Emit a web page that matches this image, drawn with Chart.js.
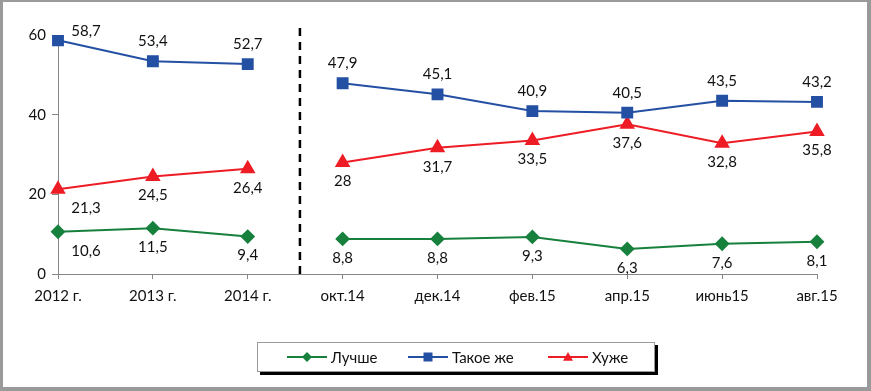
<!DOCTYPE html>
<html lang="ru">
  <head>
    <meta charset="UTF-8" />
    <title>Лучше / Такое же / Хуже</title>
    <script src="https://cdn.jsdelivr.net/npm/chart.js"></script>
    <style>
      html, body { margin: 0; padding: 0; background: #fff; }
      .chart-box { width: 871px; height: 391px; position: relative; }
    </style>
  </head>
  <body>
    <div class="chart-box"><canvas id="chart"></canvas></div>

    <script>
      // Data
      const labels = ["2012 г.", "2013 г.", "2014 г.", "окт.14", "дек.14", "фев.15", "апр.15", "июнь15", "авг.15"];
      const better = [10.6, 11.5, 9.4, 8.8, 8.8, 9.3, 6.3, 7.6, 8.1];
      const same = [58.7, 53.4, 52.7, 47.9, 45.1, 40.9, 40.5, 43.5, 43.2];
      const worse = [21.3, 24.5, 26.4, 28, 31.7, 33.5, 37.6, 32.8, 35.8];
      const yTicks = [0, 20, 40, 60];

      const FONT = "Lato, 'Open Sans', sans-serif";
      const FONT_SIZE = 15;
      const TEXT = "#111";
      const GREEN = "#17803d";
      const BLUE = "#2450a4";
      const RED = "#ee1c25";
      const AXIS = "#868686";

      // last yearly point; the line is broken after it
      const lastYearly = 2;
      // where the dashed divider sits, in category index units
      const dividerAt = 2.55;

      function fmt(v) {
        return String(v).replace(".", ",");
      }

      // value labels: blue above, others below; first point pushed right off the axis
      const valueLabels = {
        id: "valueLabels",
        afterDatasetsDraw(chart) {
          const ctx = chart.ctx;
          ctx.save();
          ctx.font = FONT_SIZE + "px " + FONT;
          ctx.fillStyle = TEXT;
          ctx.textAlign = "center";
          ctx.textBaseline = "middle";
          chart.data.datasets.forEach((ds, di) => {
            const meta = chart.getDatasetMeta(di);
            meta.data.forEach((pt, i) => {
              let x = pt.x;
              let y = ds.labelPos === "above" ? pt.y - 20 : pt.y + 19;
              if (i === 0) {
                x += 28;
                if (ds.labelPos === "above") y = pt.y - 9;
              }
              ctx.fillText(fmt(ds.data[i]), x, y);
            });
          });
          ctx.restore();
        },
      };

      // dashed divider between yearly and monthly points
      const divider = {
        id: "divider",
        beforeDatasetsDraw(chart) {
          const ctx = chart.ctx;
          const x = chart.scales.x.getPixelForValue(dividerAt);
          ctx.save();
          ctx.strokeStyle = "#000";
          ctx.lineWidth = 2.5;
          ctx.setLineDash([8, 6]);
          ctx.beginPath();
          ctx.moveTo(x, 28);
          ctx.lineTo(x, chart.chartArea.bottom);
          ctx.stroke();
          ctx.restore();
        },
      };

      function marker(ctx, style, x, y, r, color) {
        ctx.fillStyle = color;
        ctx.beginPath();
        if (style === "rect") {
          ctx.rect(x - r, y - r, 2 * r, 2 * r);
        } else if (style === "rectRot") {
          ctx.moveTo(x, y - r);
          ctx.lineTo(x + r, y);
          ctx.lineTo(x, y + r);
          ctx.lineTo(x - r, y);
        } else {
          ctx.moveTo(x, y - r);
          ctx.lineTo(x + r, y + r * 0.75);
          ctx.lineTo(x - r, y + r * 0.75);
        }
        ctx.closePath();
        ctx.fill();
      }

      // boxed legend with shadow + outer frame
      const legendBox = {
        id: "legendBox",
        afterDraw(chart) {
          const ctx = chart.ctx;
          ctx.save();
          // frame
          ctx.fillStyle = "#9a9a9a";
          ctx.fillRect(0, 0, 871, 2);
          ctx.fillRect(0, 0, 3, 391);
          ctx.fillRect(867, 0, 4, 391);
          ctx.fillRect(0, 387, 871, 4);

          const bx = 257, by = 342, bw = 398, bh = 30;
          ctx.fillStyle = "#000";
          ctx.fillRect(bx + 3, by + 3, bw, bh);
          ctx.fillStyle = "#fff";
          ctx.fillRect(bx, by, bw, bh);
          ctx.strokeStyle = "#9a9a9a";
          ctx.lineWidth = 1;
          ctx.strokeRect(bx + 0.5, by + 0.5, bw - 1, bh - 1);

          const items = [
            { x: 287, ds: chart.data.datasets[0] },
            { x: 408, ds: chart.data.datasets[1] },
            { x: 548, ds: chart.data.datasets[2] },
          ];
          const cy = by + bh / 2;
          ctx.font = FONT_SIZE + "px " + FONT;
          ctx.textBaseline = "middle";
          ctx.textAlign = "left";
          items.forEach((it) => {
            ctx.strokeStyle = it.ds.borderColor;
            ctx.lineWidth = 2;
            ctx.beginPath();
            ctx.moveTo(it.x, cy);
            ctx.lineTo(it.x + 40, cy);
            ctx.stroke();
            marker(ctx, it.ds.pointStyle, it.x + 20, cy, it.ds.pointStyle === "rect" ? 4.5 : 5, it.ds.borderColor);
            ctx.fillStyle = TEXT;
            ctx.fillText(it.ds.label, it.x + 44, cy + 1);
          });
          ctx.restore();
        },
      };

      // hide the segment that would cross the divider
      const breakSegment = {
        borderColor: (c) => (c.p0DataIndex === lastYearly ? "transparent" : undefined),
      };

      new Chart(document.getElementById("chart").getContext("2d"), {
        type: "line",
        data: {
          labels: labels,
          datasets: [
            {
              label: "Лучше",
              data: better,
              borderColor: GREEN,
              backgroundColor: GREEN,
              borderWidth: 2,
              pointStyle: "rectRot",
              pointRadius: 6,
              segment: breakSegment,
              labelPos: "below",
            },
            {
              label: "Такое же",
              data: same,
              borderColor: BLUE,
              backgroundColor: BLUE,
              borderWidth: 2,
              pointStyle: "rect",
              pointRadius: 7,
              segment: breakSegment,
              labelPos: "above",
            },
            {
              label: "Хуже",
              data: worse,
              borderColor: RED,
              backgroundColor: RED,
              borderWidth: 2,
              pointStyle: "triangle",
              pointRadius: 7,
              segment: breakSegment,
              labelPos: "below",
            },
          ],
        },
        options: {
          responsive: true,
          maintainAspectRatio: false,
          animation: false,
          events: [],
          layout: { padding: { top: 35, left: 0, right: 54, bottom: 0 } },
          plugins: {
            legend: { display: false },
            tooltip: { enabled: false },
          },
          scales: {
            x: {
              offset: false,
              grid: { drawOnChartArea: false, tickLength: 5, color: AXIS },
              border: { color: AXIS, width: 1 },
              ticks: { font: { family: FONT, size: FONT_SIZE }, color: TEXT, padding: 8, maxRotation: 0, autoSkip: false },
              afterFit(scale) { scale.height = 117; },
            },
            y: {
              min: 0,
              max: 60,
              afterBuildTicks(scale) { scale.ticks = yTicks.map((v) => ({ value: v })); },
              grid: { drawOnChartArea: false, tickLength: 6, color: AXIS },
              border: { color: AXIS, width: 1 },
              ticks: { font: { family: FONT, size: FONT_SIZE }, color: TEXT, padding: 6 },
              afterFit(scale) { scale.width = 58; },
            },
          },
        },
        plugins: [divider, valueLabels, legendBox],
      });
    </script>
  </body>
</html>
